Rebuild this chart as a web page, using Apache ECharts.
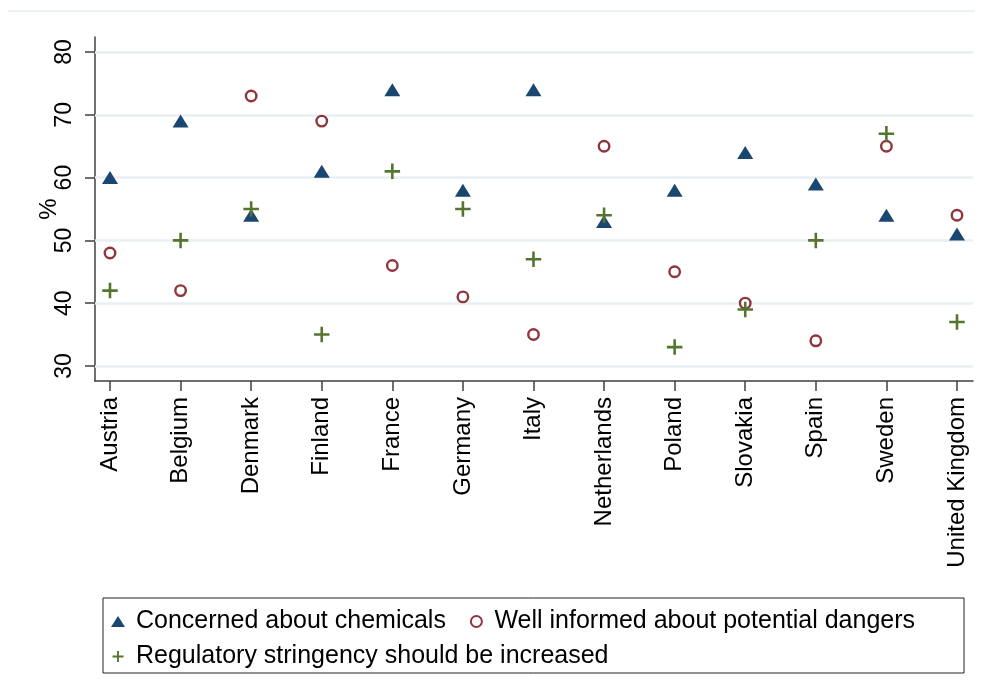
<!DOCTYPE html>
<html>
<head>
<meta charset="utf-8">
<script src="https://cdn.jsdelivr.net/npm/echarts@6/dist/echarts.min.js"></script>
<style>
  html, body { margin: 0; padding: 0; background: #fff; }
  #chart { width: 983px; height: 699px; }
</style>
</head>
<body>
<div id="chart"></div>
<script>
// Survey shares (%) by country
const countries = ['Austria', 'Belgium', 'Denmark', 'Finland', 'France', 'Germany', 'Italy',
  'Netherlands', 'Poland', 'Slovakia', 'Spain', 'Sweden', 'United Kingdom'];
const concerned = [60, 69, 54, 61, 74, 58, 74, 53, 58, 64, 59, 54, 51];
const informed  = [48, 42, 73, 69, 46, 41, 35, 65, 45, 40, 34, 65, 54];
const stringent = [42, 50, 55, 35, 61, 55, 47, 54, 33, 39, 50, 67, 37];
const yTicks = [30, 40, 50, 60, 70, 80];
const seriesNames = ['Concerned about chemicals', 'Well informed about potential dangers',
  'Regulatory stringency should be increased'];

const NAVY = '#1a476f', MAROON = '#90353b', GREEN = '#55752f';
const FONT = '"Liberation Sans", Arial, sans-serif';
const PLUS = 'path://M0,12.5H12.5V0H17.5V12.5H30V17.5H17.5V30H12.5V17.5H0Z';

const toPoints = arr => arr.map((v, i) => [i, v]);
const xTicks = countries.map((_, i) => i);

const chart = echarts.init(document.getElementById('chart'), null, { renderer: 'canvas' });
chart.setOption({
  backgroundColor: '#fff',
  animation: false,
  textStyle: { fontFamily: FONT },
  graphic: [{
    type: 'line', shape: { x1: 8, y1: 11, x2: 975, y2: 11 },
    style: { stroke: '#e4ebed', lineWidth: 1.5 }, silent: true
  }],
  grid: { left: 95, right: 10, top: 37, bottom: 318, containLabel: false },
  xAxis: {
    type: 'value', min: -0.2125, max: 12.227,
    axisLine: { show: true, onZero: false, lineStyle: { color: '#404040', width: 1.5 } },
    axisTick: { show: true, length: 10, customValues: xTicks, lineStyle: { color: '#404040', width: 1.5 } },
    splitLine: { show: false },
    axisLabel: {
      customValues: xTicks, rotate: 90, margin: 16, fontSize: 24, color: '#000', fontFamily: FONT,
      formatter: v => countries[Math.round(v)]
    }
  },
  yAxis: {
    type: 'value', min: 27.6, max: 82.4,
    name: '%', nameLocation: 'middle', nameRotate: 90, nameGap: 34, nameMoveOverlap: false,
    nameTextStyle: { fontSize: 24, color: '#000', fontFamily: FONT },
    axisLine: { show: true, onZero: false, lineStyle: { color: '#404040', width: 1.5 } },
    axisTick: { show: true, length: 10, customValues: yTicks, lineStyle: { color: '#404040', width: 1.5 } },
    splitLine: { show: false },
    axisLabel: {
      customValues: yTicks, rotate: 90, margin: 19, fontSize: 23, color: '#000', fontFamily: FONT
    }
  },
  legend: {
    left: 103, top: 598, width: 860,
    orient: 'horizontal',
    padding: [11, 35, 4, 8],
    borderColor: '#222', borderWidth: 1,
    itemGap: 10, itemWidth: 14, itemHeight: 11,
    textStyle: { fontSize: 25, color: '#000', fontFamily: FONT, lineHeight: 25, padding: [0, 14, 0, 6] },
    data: [
      { name: seriesNames[0], icon: 'triangle' },
      { name: seriesNames[1], icon: 'circle' },
      { name: seriesNames[2], icon: PLUS }
    ]
  },
  series: [
    {
      // horizontal grid lines at each labelled tick
      type: 'scatter', name: 'grid', data: [], silent: true, z: 1,
      markLine: {
        z: 1, silent: true, symbol: ['none', 'none'], label: { show: false },
        lineStyle: { color: '#e8f0f2', width: 2.5, type: 'solid' },
        emphasis: { disabled: true },
        data: yTicks.map(v => ({ yAxis: v }))
      }
    },
    {
      type: 'scatter', name: seriesNames[0], data: toPoints(concerned), z: 3,
      symbol: 'triangle', symbolSize: [16, 13],
      itemStyle: { color: NAVY, opacity: 1 }
    },
    {
      type: 'scatter', name: seriesNames[1], data: toPoints(informed), z: 3,
      symbol: 'circle', symbolSize: 10.5,
      itemStyle: { color: '#fff', borderColor: MAROON, borderWidth: 2.4, opacity: 1 }
    },
    {
      type: 'scatter', name: seriesNames[2], data: toPoints(stringent), z: 4,
      symbol: PLUS, symbolSize: 15.5,
      itemStyle: { color: GREEN, opacity: 1 }
    }
  ]
});
</script>
</body>
</html>
